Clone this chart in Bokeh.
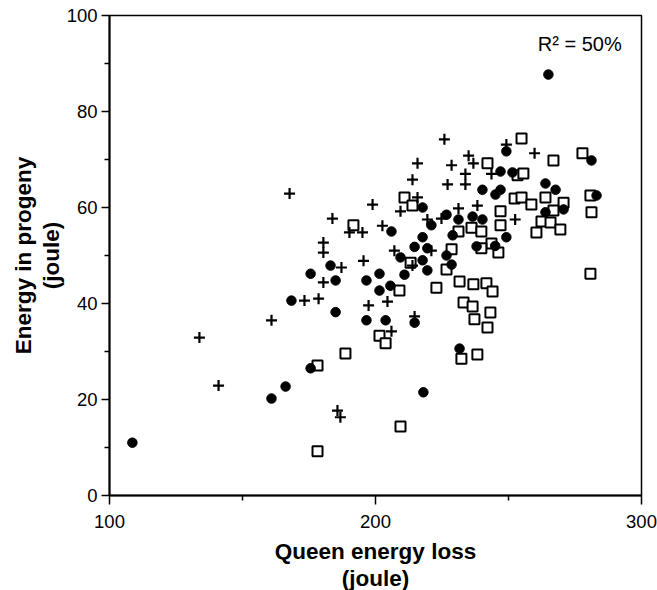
from bokeh.plotting import figure
from bokeh.models import FixedTicker, Label, Range1d
from bokeh.embed import file_html
from bokeh.resources import INLINE

# ---- data ----
circle_x = [108.6, 160.9, 166.2, 175.6, 168.4, 175.6, 183.1, 185.0, 185.0, 196.6,
            196.6, 201.5, 201.5, 203.8, 214.7, 205.6, 210.9, 209.4, 214.7, 219.5,
            217.7, 219.5, 226.7, 228.6, 231.6, 218.0, 217.7, 206.0, 221.0, 226.7,
            231.2, 236.5, 240.2, 229.0, 238.0, 245.0, 249.2, 240.2, 247.0, 245.1,
            247.0, 251.5, 249.2, 265.0, 263.9, 267.7, 263.9, 270.7, 281.2, 283.1,
            217.7]
circle_y = [11.0, 20.2, 22.7, 26.5, 40.6, 46.2, 47.9, 44.8, 38.2, 44.8,
            36.5, 46.2, 42.7, 36.5, 36.0, 43.7, 46.0, 49.6, 51.8, 51.5,
            49.0, 46.9, 50.0, 48.1, 30.6, 21.5, 60.0, 55.0, 56.3, 58.5,
            57.5, 58.1, 57.5, 54.2, 51.9, 52.0, 53.8, 63.7, 63.7, 62.7,
            67.5, 67.3, 71.7, 87.7, 65.0, 63.7, 59.0, 59.6, 69.8, 62.5,
            53.8]

plus_x = [133.8, 141.0, 160.9, 173.3, 178.6, 180.4, 180.4, 180.4, 187.2, 195.5,
          197.4, 185.7, 186.8, 167.7, 183.8, 190.2, 195.1, 198.9, 202.6, 204.5,
          206.0, 214.7, 213.9, 207.1, 209.4, 215.8, 213.9, 215.8, 219.5, 224.8,
          231.2, 238.3, 227.1, 233.8, 228.6, 233.8, 243.6, 235.0, 236.8, 225.9,
          249.2, 259.8, 252.5, 221.0]
plus_y = [32.9, 22.9, 36.5, 40.6, 41.0, 44.4, 50.6, 52.7, 47.5, 48.9,
          39.6, 17.7, 16.3, 62.9, 57.7, 54.8, 54.8, 60.6, 56.2, 40.4,
          34.2, 37.3, 47.9, 51.0, 59.2, 62.1, 65.8, 69.2, 57.5, 57.7,
          59.8, 60.4, 64.8, 64.8, 68.8, 67.0, 67.0, 70.8, 69.2, 74.2,
          73.1, 71.3, 57.5, 51.0]

square_x = [178.2, 188.7, 178.2, 201.5, 203.8, 191.7, 210.9, 213.9, 209.0, 213.2,
            222.9, 226.7, 228.6, 231.6, 236.8, 241.7, 244.0, 233.1, 236.5, 243.2,
            237.2, 242.1, 232.3, 238.3, 209.4, 280.8, 242.1, 252.3, 247.0, 247.0,
            231.2, 236.1, 239.8, 243.6, 246.2, 239.8, 254.9, 266.9, 277.8, 253.4,
            255.6, 254.9, 258.6, 263.9, 270.7, 266.9, 262.4, 265.8, 269.5, 260.5,
            280.8, 281.2]
square_y = [27.1, 29.6, 9.2, 33.3, 31.7, 56.3, 62.1, 60.4, 42.7, 48.5,
            43.3, 47.1, 51.3, 44.6, 44.0, 44.2, 42.5, 40.2, 39.4, 38.1,
            36.7, 35.0, 28.5, 29.4, 14.4, 46.2, 69.2, 61.9, 59.2, 56.3,
            55.0, 55.8, 55.0, 52.5, 50.6, 51.5, 74.4, 69.8, 71.3, 66.7,
            67.1, 62.1, 60.6, 62.1, 61.0, 59.4, 57.1, 56.9, 55.4, 54.8,
            62.5, 59.0]

x_ticks = [100, 200, 300]
x_minor = [150, 250]
y_ticks = [0, 20, 40, 60, 80, 100]
y_minor = [10, 30, 50, 70, 90]
x_title = "Queen energy loss\n(joule)"
y_title = "Energy in progeny\n(joule)"
r2_text = "R\u00b2 = 50%"

FONT = "Liberation Sans"

p = figure(frame_width=532, frame_height=480,
           x_range=Range1d(100, 300), y_range=Range1d(0, 100),
           output_backend="svg", toolbar_location=None,
           min_border_left=109, min_border_right=16,
           min_border_top=15, min_border_bottom=95)
p.background_fill_color = "white"
p.border_fill_color = "white"
p.xgrid.visible = False
p.ygrid.visible = False
p.outline_line_color = "black"
p.outline_line_width = 1.5

for ax in (p.xaxis[0], p.yaxis[0]):
    ax.axis_line_color = "black"
    ax.axis_line_width = 2
    ax.major_tick_line_color = "black"
    ax.major_tick_line_width = 1.5
    ax.minor_tick_line_color = "black"
    ax.minor_tick_line_width = 1.5
    ax.major_label_text_font = FONT
    ax.major_label_text_font_size = "18.5px"
    ax.major_label_text_color = "black"
    ax.axis_label_text_font = FONT
    ax.axis_label_text_font_style = "bold"
    ax.axis_label_text_font_size = "22.5px"
    ax.axis_label_text_color = "black"
    ax.axis_label_text_line_height = 1.1

p.xaxis.ticker = FixedTicker(ticks=x_ticks, minor_ticks=x_minor)
p.yaxis.ticker = FixedTicker(ticks=y_ticks, minor_ticks=y_minor)
p.xaxis.major_tick_out = 9
p.xaxis.major_tick_in = 0
p.xaxis.minor_tick_out = 5
p.xaxis.minor_tick_in = 0
p.yaxis.major_tick_out = 8
p.yaxis.major_tick_in = 0
p.yaxis.minor_tick_out = 5
p.yaxis.minor_tick_in = 0
p.xaxis.major_label_standoff = 10
p.yaxis.major_label_standoff = 4
p.xaxis.axis_label = x_title
p.yaxis.axis_label = y_title
p.xaxis.axis_label_standoff = 8
p.yaxis.axis_label_standoff = 0

p.scatter(square_x, square_y, marker="square", size=10, fill_color="white",
          line_color="black", line_width=2)
p.scatter(plus_x, plus_y, marker="cross", size=11, line_color="black",
          line_width=2.2)
p.scatter(circle_x, circle_y, marker="circle", size=9.5, fill_color="black",
          line_color="black")

p.add_layout(Label(x=261, y=94, text=r2_text, text_font=FONT,
                   text_font_size="20px", text_color="black",
                   text_baseline="middle", text_align="left"))

open("out.html", "w").write(file_html(p, INLINE))
